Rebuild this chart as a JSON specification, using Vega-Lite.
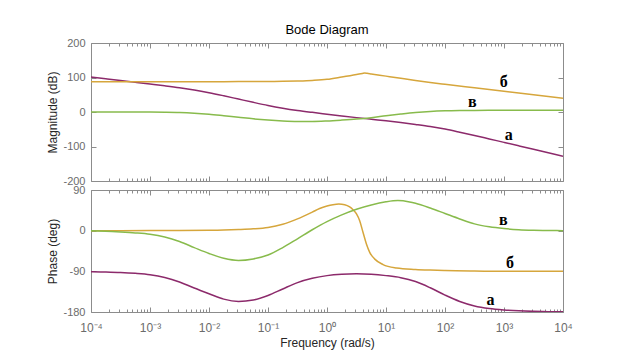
{
  "$schema": "https://vega.github.io/schema/vega-lite/v6.json",
  "padding": {"left": 46, "top": 24, "right": 5, "bottom": 5},
  "spacing": 9,
  "bounds": "flush",
  "config": {
    "view": {"stroke": null},
    "axis": {"domainWidth": 1, "tickWidth": 1, "labelFont": "Liberation Sans", "titleFont": "Liberation Sans", "grid": false}
  },
  "datasets": {
    "mag": [
      {"s":"а","f":0.0001,"v":101.3},{"s":"а","f":0.00017783,"v":96.3},{"s":"а","f":0.00031623,"v":91.3},{"s":"а","f":0.00056234,"v":86.3},
      {"s":"а","f":0.001,"v":81.2},{"s":"а","f":0.0017783,"v":76.0},{"s":"а","f":0.0031623,"v":70.4},{"s":"а","f":0.0056234,"v":63.9},
      {"s":"а","f":0.01,"v":56.0},{"s":"а","f":0.017783,"v":47.0},{"s":"а","f":0.031623,"v":37.5},{"s":"а","f":0.056234,"v":28.0},
      {"s":"а","f":0.1,"v":19.0},{"s":"а","f":0.17783,"v":11.2},{"s":"а","f":0.31623,"v":4.6},{"s":"а","f":0.56234,"v":-1.0},
      {"s":"а","f":1,"v":-6.2},{"s":"а","f":1.7783,"v":-11.3},{"s":"а","f":3.1623,"v":-16.3},{"s":"а","f":5.6234,"v":-21.0},
      {"s":"а","f":10,"v":-25.5},{"s":"а","f":17.783,"v":-30.5},{"s":"а","f":31.623,"v":-36.0},{"s":"а","f":56.234,"v":-42.0},
      {"s":"а","f":100,"v":-49.5},{"s":"а","f":177.83,"v":-58.5},{"s":"а","f":316.23,"v":-68.0},{"s":"а","f":562.34,"v":-78.0},
      {"s":"а","f":1000,"v":-88.0},{"s":"а","f":1778.3,"v":-98.0},{"s":"а","f":3162.3,"v":-108.0},{"s":"а","f":5623.4,"v":-118.0},
      {"s":"а","f":10000,"v":-128.0},
      {"s":"б","f":0.0001,"v":88},{"s":"б","f":0.001,"v":88},{"s":"б","f":0.01,"v":88},{"s":"б","f":0.031623,"v":88.1},
      {"s":"б","f":0.1,"v":88.4},{"s":"б","f":0.17783,"v":89},{"s":"б","f":0.31623,"v":90},{"s":"б","f":0.56234,"v":91.6},
      {"s":"б","f":1,"v":94.6},{"s":"б","f":1.7783,"v":101.3},{"s":"б","f":3.1623,"v":108.6},{"s":"б","f":3.9811,"v":111.8},
      {"s":"б","f":4.3652,"v":113},{"s":"б","f":4.7863,"v":112.2},{"s":"б","f":5.6234,"v":110.4},{"s":"б","f":10,"v":104},
      {"s":"б","f":17.783,"v":97.6},{"s":"б","f":31.623,"v":91.3},{"s":"б","f":56.234,"v":85.5},{"s":"б","f":100,"v":80.2},
      {"s":"б","f":316.23,"v":70.2},{"s":"б","f":1000,"v":60.2},{"s":"б","f":3162.3,"v":50.2},{"s":"б","f":10000,"v":40.2},
      {"s":"в","f":0.0001,"v":0},{"s":"в","f":0.00031623,"v":0},{"s":"в","f":0.001,"v":-0.2},{"s":"в","f":0.0017783,"v":-0.5},
      {"s":"в","f":0.0031623,"v":-1.3},{"s":"в","f":0.0056234,"v":-3.3},{"s":"в","f":0.01,"v":-6.5},{"s":"в","f":0.017783,"v":-10.8},
      {"s":"в","f":0.031623,"v":-15.3},{"s":"в","f":0.056234,"v":-19.8},{"s":"в","f":0.1,"v":-23.3},{"s":"в","f":0.17783,"v":-25.8},
      {"s":"в","f":0.31623,"v":-27.2},{"s":"в","f":0.56234,"v":-27.4},{"s":"в","f":1,"v":-26},{"s":"в","f":1.7783,"v":-23.5},
      {"s":"в","f":3.1623,"v":-20.5},{"s":"в","f":5.6234,"v":-16.5},{"s":"в","f":10,"v":-11},{"s":"в","f":17.783,"v":-6},
      {"s":"в","f":31.623,"v":-1.6},{"s":"в","f":56.234,"v":1.5},{"s":"в","f":100,"v":3.3},{"s":"в","f":177.83,"v":4.2},
      {"s":"в","f":316.23,"v":4.6},{"s":"в","f":1000,"v":4.8},{"s":"в","f":3162.3,"v":4.8},{"s":"в","f":10000,"v":4.8}
    ],
    "ph": [
      {"s":"а","f":0.0001,"v":-90.8},{"s":"а","f":0.00017783,"v":-91.5},{"s":"а","f":0.00031623,"v":-92.6},{"s":"а","f":0.00056234,"v":-94.5},
      {"s":"а","f":0.001,"v":-97.5},{"s":"а","f":0.0017783,"v":-103.5},{"s":"а","f":0.0031623,"v":-113.5},{"s":"а","f":0.0056234,"v":-127},
      {"s":"а","f":0.01,"v":-139.5},{"s":"а","f":0.017783,"v":-151.5},{"s":"а","f":0.031623,"v":-156.5},{"s":"а","f":0.056234,"v":-153.5},
      {"s":"а","f":0.1,"v":-143.5},{"s":"а","f":0.17783,"v":-129},{"s":"а","f":0.31623,"v":-115},{"s":"а","f":0.56234,"v":-105.5},
      {"s":"а","f":1,"v":-99.5},{"s":"а","f":1.7783,"v":-96.5},{"s":"а","f":3.1623,"v":-95.5},{"s":"а","f":5.6234,"v":-96.5},
      {"s":"а","f":10,"v":-99.5},{"s":"а","f":17.783,"v":-104},{"s":"а","f":31.623,"v":-112.6},{"s":"а","f":56.234,"v":-126.4},
      {"s":"а","f":100,"v":-142.5},{"s":"а","f":177.83,"v":-156.6},{"s":"а","f":316.23,"v":-166.5},{"s":"а","f":562.34,"v":-172.2},
      {"s":"а","f":1000,"v":-175.4},{"s":"а","f":1778.3,"v":-177.4},{"s":"а","f":3162.3,"v":-178.6},{"s":"а","f":5623.4,"v":-179.2},
      {"s":"а","f":10000,"v":-179.6},
      {"s":"б","f":0.0001,"v":0},{"s":"б","f":0.001,"v":0.1},{"s":"б","f":0.0031623,"v":0.3},{"s":"б","f":0.01,"v":0.8},
      {"s":"б","f":0.017783,"v":1.5},{"s":"б","f":0.031623,"v":2.5},{"s":"б","f":0.056234,"v":4},{"s":"б","f":0.1,"v":7},
      {"s":"б","f":0.17783,"v":14},{"s":"б","f":0.31623,"v":26},{"s":"б","f":0.56234,"v":41},{"s":"б","f":0.74989,"v":49},
      {"s":"б","f":1,"v":54.5},{"s":"б","f":1.2589,"v":57.5},{"s":"б","f":1.5849,"v":59},{"s":"б","f":1.9953,"v":57.5},
      {"s":"б","f":2.4266,"v":52.5},{"s":"б","f":2.7542,"v":46.5},{"s":"б","f":3.1623,"v":37},{"s":"б","f":3.581,"v":22},
      {"s":"б","f":4.0738,"v":-3.5},{"s":"б","f":4.6559,"v":-29.5},{"s":"б","f":5.2966,"v":-48},{"s":"б","f":6.4565,"v":-63},
      {"s":"б","f":8.9125,"v":-75},{"s":"б","f":15.136,"v":-82.5},{"s":"б","f":31.623,"v":-85.8},{"s":"б","f":56.234,"v":-87.3},
      {"s":"б","f":100,"v":-88.4},{"s":"б","f":316.23,"v":-89.4},{"s":"б","f":1000,"v":-89.8},{"s":"б","f":10000,"v":-90},
      {"s":"в","f":0.0001,"v":0},{"s":"в","f":0.00017783,"v":-1.5},{"s":"в","f":0.00031623,"v":-3},{"s":"в","f":0.00056234,"v":-5},
      {"s":"в","f":0.001,"v":-8},{"s":"в","f":0.0017783,"v":-14},{"s":"в","f":0.0031623,"v":-24},{"s":"в","f":0.0056234,"v":-37.5},
      {"s":"в","f":0.01,"v":-50.5},{"s":"в","f":0.017783,"v":-61},{"s":"в","f":0.031623,"v":-65.8},{"s":"в","f":0.056234,"v":-62.5},
      {"s":"в","f":0.1,"v":-54},{"s":"в","f":0.17783,"v":-37.5},{"s":"в","f":0.31623,"v":-18},{"s":"в","f":0.56234,"v":2},
      {"s":"в","f":1,"v":20},{"s":"в","f":1.7783,"v":35},{"s":"в","f":3.1623,"v":47.5},{"s":"в","f":5.6234,"v":57},
      {"s":"в","f":10,"v":63.8},{"s":"в","f":15.849,"v":66.5},{"s":"в","f":25.119,"v":63.5},{"s":"в","f":31.623,"v":60.5},
      {"s":"в","f":56.234,"v":50},{"s":"в","f":100,"v":38},{"s":"в","f":177.83,"v":26},{"s":"в","f":316.23,"v":15},
      {"s":"в","f":562.34,"v":8.5},{"s":"в","f":1000,"v":4.6},{"s":"в","f":1778.3,"v":2.2},{"s":"в","f":3162.3,"v":1},
      {"s":"в","f":5623.4,"v":0.4},{"s":"в","f":10000,"v":0}
    ],
    "lm": [
      {"s":"б","f":989,"v":71.2},{"s":"в","f":289,"v":13.1},{"s":"а","f":1202,"v":-80.8}
    ],
    "lp": [
      {"s":"в","f":977,"v":13.5},{"s":"б","f":1259,"v":-83.2},{"s":"а","f":589,"v":-163.5}
    ]
  },
  "vconcat": [
    {
      "width": 472,
      "height": 138,
      "title": {"text": "Bode Diagram", "frame": "group", "anchor": "middle", "offset": 0, "fontSize": 13, "fontWeight": "normal", "color": "#000000", "font": "Liberation Sans"},
      "layer": [
        {
          "data": {"name": "mag"},
          "mark": {"type": "line", "interpolate": "monotone", "strokeWidth": 1.5, "clip": true},
          "encoding": {
            "x": {"field": "f", "type": "quantitative", "scale": {"type": "log", "domain": [0.0001, 10000], "nice": false},
              "axis": {"orient": "bottom", "values": [0.0001,0.0002,0.0003,0.0004,0.0005,0.0006,0.0007,0.0008,0.0009,0.001,0.002,0.003,0.004,0.005,0.006,0.007,0.008,0.009,0.01,0.02,0.03,0.04,0.05,0.06,0.07,0.08,0.09,0.1,0.2,0.3,0.4,0.5,0.6,0.7,0.8,0.9,1,2,3,4,5,6,7,8,9,10,20,30,40,50,60,70,80,90,100,200,300,400,500,600,700,800,900,1000,2000,3000,4000,5000,6000,7000,8000,9000,10000],
                "labels": false, "title": null, "domainColor": "#8c8c8c", "tickColor": "#8c8c8c",
                "tickSize": {"condition": {"test": "abs(log(datum.value)/LN10-round(log(datum.value)/LN10))<0.01", "value": -5}, "value": -3}}},
            "y": {"field": "v", "type": "quantitative", "scale": {"domain": [-200, 200], "nice": false, "zero": false},
              "axis": {"orient": "left", "values": [-200, -100, 0, 100, 200], "tickSize": -5, "labelPadding": 11,
                "labelExpr": "datum.value < 0 ? '-' + abs(datum.value) : '' + datum.value",
                "labelFontSize": 11, "labelColor": "#6b6b6b", "labelFlush": false, "labelOverlap": false,
                "title": "Magnitude (dB)", "titleFontSize": 12, "titleFontWeight": "normal", "titleColor": "#262626", "titlePadding": 3,
                "domainColor": "#8c8c8c", "tickColor": "#8c8c8c"}},
            "color": {"field": "s", "type": "nominal", "scale": {"domain": ["а", "б", "в"], "range": ["#8c2a6b", "#d6a63c", "#88bb4c"]}, "legend": null}
          }
        },
        {
          "data": {"name": "lm"},
          "mark": {"type": "text", "font": "Liberation Serif", "fontWeight": "bold", "fontSize": 16, "align": "center", "baseline": "alphabetic", "color": "#000000"},
          "encoding": {
            "x": {"field": "f", "type": "quantitative", "scale": {"type": "log", "domain": [0.0001, 10000], "nice": false},
              "axis": {"orient": "top", "values": [0.0001,0.0002,0.0003,0.0004,0.0005,0.0006,0.0007,0.0008,0.0009,0.001,0.002,0.003,0.004,0.005,0.006,0.007,0.008,0.009,0.01,0.02,0.03,0.04,0.05,0.06,0.07,0.08,0.09,0.1,0.2,0.3,0.4,0.5,0.6,0.7,0.8,0.9,1,2,3,4,5,6,7,8,9,10,20,30,40,50,60,70,80,90,100,200,300,400,500,600,700,800,900,1000,2000,3000,4000,5000,6000,7000,8000,9000,10000],
                "labels": false, "title": null, "domainColor": "#8c8c8c", "tickColor": "#8c8c8c",
                "tickSize": {"condition": {"test": "abs(log(datum.value)/LN10-round(log(datum.value)/LN10))<0.01", "value": -5}, "value": -3}}},
            "y": {"field": "v", "type": "quantitative", "scale": {"domain": [-200, 200], "nice": false, "zero": false},
              "axis": {"orient": "right", "values": [-200, -100, 0, 100, 200], "tickSize": -5, "labels": false, "title": null,
                "domainColor": "#8c8c8c", "tickColor": "#8c8c8c"}},
            "text": {"field": "s"}
          }
        }
      ],
      "resolve": {"axis": {"x": "independent", "y": "independent"}}
    },
    {
      "width": 472,
      "height": 122,
      "layer": [
        {
          "data": {"name": "ph"},
          "mark": {"type": "line", "interpolate": "monotone", "strokeWidth": 1.5, "clip": true},
          "encoding": {
            "x": {"field": "f", "type": "quantitative", "scale": {"type": "log", "domain": [0.0001, 10000], "nice": false},
              "axis": {"orient": "bottom", "values": [0.0001,0.0002,0.0003,0.0004,0.0005,0.0006,0.0007,0.0008,0.0009,0.001,0.002,0.003,0.004,0.005,0.006,0.007,0.008,0.009,0.01,0.02,0.03,0.04,0.05,0.06,0.07,0.08,0.09,0.1,0.2,0.3,0.4,0.5,0.6,0.7,0.8,0.9,1,2,3,4,5,6,7,8,9,10,20,30,40,50,60,70,80,90,100,200,300,400,500,600,700,800,900,1000,2000,3000,4000,5000,6000,7000,8000,9000,10000],
                "labelExpr": "abs(log(datum.value)/LN10-round(log(datum.value)/LN10))<0.01 ? '10' + replace(replace(replace(replace(replace(replace(''+round(log(datum.value)/LN10),'-','⁻'),'0','⁰'),'1','¹'),'2','²'),'3','³'),'4','⁴') : ''",
                "labelPadding": 15, "labelFontSize": 12, "labelColor": "#6b6b6b", "labelFlush": false, "labelOverlap": false, "labelBound": false,
                "title": "Frequency (rad/s)", "titleFontSize": 12, "titleFontWeight": "normal", "titleColor": "#262626", "titlePadding": 2,
                "domainColor": "#8c8c8c", "tickColor": "#8c8c8c",
                "tickSize": {"condition": {"test": "abs(log(datum.value)/LN10-round(log(datum.value)/LN10))<0.01", "value": -5}, "value": -3}}},
            "y": {"field": "v", "type": "quantitative", "scale": {"domain": [-180, 90], "nice": false, "zero": false},
              "axis": {"orient": "left", "values": [-180, -90, 0, 90], "tickSize": -5, "labelPadding": 11,
                "labelExpr": "datum.value < 0 ? '-' + abs(datum.value) : '' + datum.value",
                "labelFontSize": 11, "labelColor": "#6b6b6b", "labelFlush": false, "labelOverlap": false,
                "title": "Phase (deg)", "titleFontSize": 12, "titleFontWeight": "normal", "titleColor": "#262626", "titlePadding": 3,
                "domainColor": "#8c8c8c", "tickColor": "#8c8c8c"}},
            "color": {"field": "s", "type": "nominal", "scale": {"domain": ["а", "б", "в"], "range": ["#8c2a6b", "#d6a63c", "#88bb4c"]}, "legend": null}
          }
        },
        {
          "data": {"name": "lp"},
          "mark": {"type": "text", "font": "Liberation Serif", "fontWeight": "bold", "fontSize": 16, "align": "center", "baseline": "alphabetic", "color": "#000000"},
          "encoding": {
            "x": {"field": "f", "type": "quantitative", "scale": {"type": "log", "domain": [0.0001, 10000], "nice": false},
              "axis": {"orient": "top", "values": [0.0001,0.0002,0.0003,0.0004,0.0005,0.0006,0.0007,0.0008,0.0009,0.001,0.002,0.003,0.004,0.005,0.006,0.007,0.008,0.009,0.01,0.02,0.03,0.04,0.05,0.06,0.07,0.08,0.09,0.1,0.2,0.3,0.4,0.5,0.6,0.7,0.8,0.9,1,2,3,4,5,6,7,8,9,10,20,30,40,50,60,70,80,90,100,200,300,400,500,600,700,800,900,1000,2000,3000,4000,5000,6000,7000,8000,9000,10000],
                "labels": false, "title": null, "domainColor": "#8c8c8c", "tickColor": "#8c8c8c",
                "tickSize": {"condition": {"test": "abs(log(datum.value)/LN10-round(log(datum.value)/LN10))<0.01", "value": -5}, "value": -3}}},
            "y": {"field": "v", "type": "quantitative", "scale": {"domain": [-180, 90], "nice": false, "zero": false},
              "axis": {"orient": "right", "values": [-180, -90, 0, 90], "tickSize": -5, "labels": false, "title": null,
                "domainColor": "#8c8c8c", "tickColor": "#8c8c8c"}},
            "text": {"field": "s"}
          }
        }
      ],
      "resolve": {"axis": {"x": "independent", "y": "independent"}}
    }
  ]
}
